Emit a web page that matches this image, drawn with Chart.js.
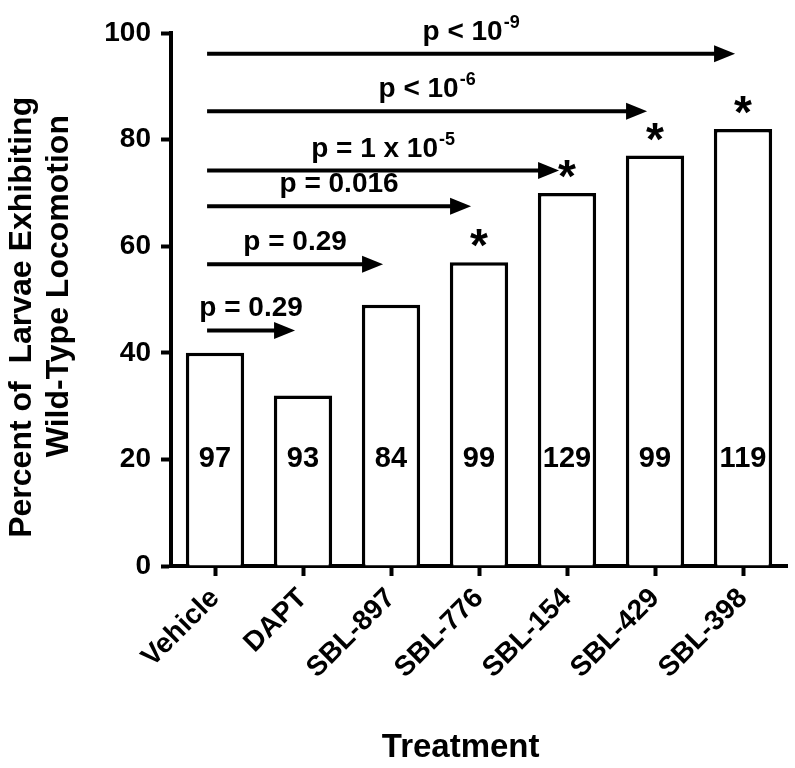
<!DOCTYPE html>
<html lang="en">
<head>
    <meta charset="UTF-8">
    <title>Larvae Exhibiting Wild-Type Locomotion</title>
    <script src="https://cdn.jsdelivr.net/npm/chart.js"></script>
    <style>
        html, body {
            margin: 0;
            padding: 0;
            background-color: #ffffff;
        }
    </style>
</head>
<body>
    <canvas id="locomotionChart" width="795" height="768"></canvas>

    <script>
        // Data
        const categories = ['Vehicle', 'DAPT', 'SBL-897', 'SBL-776', 'SBL-154', 'SBL-429', 'SBL-398'];
        const percents = [40, 32, 49, 57, 70, 77, 82];
        const nCounts = [97, 93, 84, 99, 129, 99, 119];
        const significant = [false, false, false, true, true, true, true];
        const nLabelLevel = 20;

        // Comparison arrows, all starting at Vehicle
        const arrowTargets = [1, 2, 3, 4, 5, 6];
        const arrowLevels = [44.2, 56.6, 67.5, 74.2, 85.3, 96.1];
        const pBase = ['p = 0.29', 'p = 0.29', 'p = 0.016', 'p = 1 x 10', 'p < 10', 'p < 10'];
        const pExp = ['', '', '', '-5', '-6', '-9'];

        const yTicks = [0, 20, 40, 60, 80, 100];

        const FONT = 'Arial, "Liberation Sans", sans-serif';

        // Draws counts, asterisks and the p-value arrows on top of the bars
        const annotationPlugin = {
            id: 'annotations',
            afterDatasetsDraw(chart) {
                const ctx = chart.ctx;
                const xs = chart.scales.x;
                const ys = chart.scales.y;
                const meta = chart.getDatasetMeta(0);
                const step = xs.getPixelForValue(1) - xs.getPixelForValue(0);
                const arrowShift = -0.09 * step;

                ctx.save();
                ctx.fillStyle = '#000000';
                ctx.strokeStyle = '#000000';

                // sample sizes inside the bars
                ctx.font = 'bold 29px ' + FONT;
                ctx.textAlign = 'center';
                ctx.textBaseline = 'middle';
                nCounts.forEach((n, i) => {
                    ctx.fillText(String(n), xs.getPixelForValue(i), ys.getPixelForValue(nLabelLevel));
                });

                // asterisks above significant bars
                ctx.font = 'bold 46px ' + FONT;
                ctx.textBaseline = 'alphabetic';
                significant.forEach((s, i) => {
                    if (s) ctx.fillText('*', meta.data[i].x, meta.data[i].y - 1);
                });

                // arrows and p-values
                arrowTargets.forEach((t, k) => {
                    const x0 = xs.getPixelForValue(0) + arrowShift;
                    const x1 = xs.getPixelForValue(t) + arrowShift;
                    const y = ys.getPixelForValue(arrowLevels[k]);

                    ctx.lineWidth = 4;
                    ctx.beginPath();
                    ctx.moveTo(x0, y);
                    ctx.lineTo(x1 - 16, y);
                    ctx.stroke();

                    ctx.beginPath();
                    ctx.moveTo(x1, y);
                    ctx.lineTo(x1 - 21, y - 8.5);
                    ctx.lineTo(x1 - 21, y + 8.5);
                    ctx.closePath();
                    ctx.fill();

                    ctx.font = 'bold 28px ' + FONT;
                    const wBase = ctx.measureText(pBase[k]).width;
                    ctx.font = 'bold 18px ' + FONT;
                    const wExp = pExp[k] ? ctx.measureText(pExp[k]).width + 1 : 0;
                    const left = (x0 + x1) / 2 - (wBase + wExp) / 2;
                    const base = y - 14;

                    ctx.textAlign = 'left';
                    ctx.font = 'bold 28px ' + FONT;
                    ctx.fillText(pBase[k], left, base);
                    if (pExp[k]) {
                        ctx.font = 'bold 18px ' + FONT;
                        ctx.fillText(pExp[k], left + wBase + 1, base - 12);
                    }
                    ctx.textAlign = 'center';
                });

                ctx.restore();
            }
        };

        const ctx = document.getElementById('locomotionChart').getContext('2d');

        const locomotionChart = new Chart(ctx, {
            type: 'bar',
            data: {
                labels: categories,
                datasets: [{
                    label: 'Percent',
                    data: percents,
                    backgroundColor: '#ffffff',
                    borderColor: '#000000',
                    borderWidth: 3.5,
                    borderSkipped: 'bottom',
                    barPercentage: 0.663,
                    categoryPercentage: 1.0
                }]
            },
            options: {
                responsive: false,
                animation: false,
                layout: {
                    padding: { top: 33, right: 8, bottom: 0, left: 0 }
                },
                plugins: {
                    legend: { display: false },
                    tooltip: { enabled: false }
                },
                scales: {
                    x: {
                        offset: true,
                        afterFit(scale) { scale.height = 202; },
                        grid: {
                            offset: false,
                            drawOnChartArea: false,
                            drawTicks: true,
                            tickLength: 10,
                            tickWidth: 4,
                            tickColor: '#000000'
                        },
                        border: { display: true, color: '#000000', width: 4 },
                        ticks: {
                            autoSkip: false,
                            maxRotation: 45,
                            minRotation: 45,
                            padding: 6,
                            color: '#000000',
                            font: { family: FONT, size: 28, weight: 'bold' }
                        },
                        title: {
                            display: true,
                            // trailing spaces nudge the centred title left, as in the figure
                            text: 'Treatment    ',
                            color: '#000000',
                            padding: { top: 0, bottom: 1.5 },
                            font: { family: FONT, size: 33, weight: 'bold', lineHeight: 1.15 }
                        }
                    },
                    y: {
                        min: 0,
                        max: 100,
                        afterFit(scale) { scale.width = 171; },
                        afterBuildTicks(scale) {
                            scale.ticks = yTicks.map(v => ({ value: v }));
                        },
                        grid: {
                            drawOnChartArea: false,
                            drawTicks: true,
                            tickLength: 10,
                            tickWidth: 4,
                            tickColor: '#000000'
                        },
                        border: { display: true, color: '#000000', width: 4 },
                        ticks: {
                            padding: 10,
                            color: '#000000',
                            font: { family: FONT, size: 28, weight: 'bold' }
                        },
                        title: {
                            display: true,
                            text: ['Percent of  Larvae Exhibiting    ', '   Wild-Type Locomotion'],
                            color: '#000000',
                            padding: { top: 3, bottom: 0 },
                            font: { family: FONT, size: 32, weight: 'bold', lineHeight: 1.17 }
                        }
                    }
                }
            },
            plugins: [annotationPlugin]
        });
    </script>
</body>
</html>
